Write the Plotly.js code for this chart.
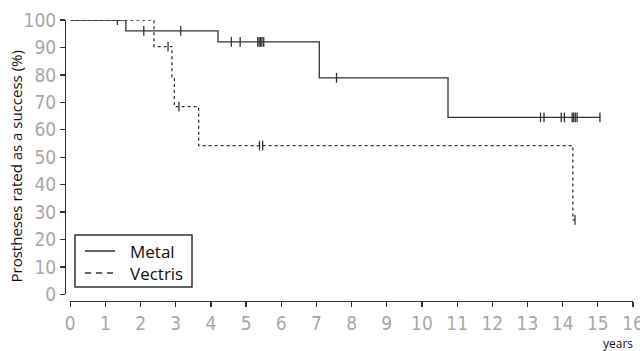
<!DOCTYPE html>
<html>
<head>
<meta charset="utf-8">
<script src="https://cdn.plot.ly/plotly-3.0.1.min.js"></script>
<style>
  html, body { margin: 0; padding: 0; background: #fff; }
  #chart { width: 640px; height: 351px; }
</style>
</head>
<body>
<div id="chart"></div>
<script>
// Kaplan-Meier success curves (years vs % rated as success)
const metalTimes = [0, 1.58, 4.20, 7.08, 10.74, 15.07];
const metalSurv  = [100, 96.0, 92.0, 78.9, 64.5, 64.5];
const metalCensored = [1.34, 2.09, 3.14, 4.58, 4.83, 5.33, 5.37, 5.41, 5.45, 5.50,
                       7.57, 13.37, 13.47, 13.96, 14.05, 14.27, 14.31, 14.36, 14.41, 15.06];

const vectrisTimes = [0, 2.38, 2.89, 2.96, 3.65, 14.29, 14.35];
const vectrisSurv  = [100, 90.3, 79.3, 68.4, 54.2, 27.1, 27.1];
const vectrisCensored = [2.78, 3.09, 5.38, 5.47, 14.35];

const xTicks = [0, 1, 2, 3, 4, 5, 6, 7, 8, 9, 10, 11, 12, 13, 14, 15, 16];
const yTicks = [0, 10, 20, 30, 40, 50, 60, 70, 80, 90, 100];

const seriesNames = ['Metal', 'Vectris'];
const yTitle = 'Prostheses rated as a success (%)';
const xUnit = 'years';

// survival level in effect at time t (right-continuous step)
function stepAt(times, surv, t) {
  let s = surv[0];
  for (let i = 0; i < times.length; i++) {
    if (times[i] <= t) s = surv[i];
  }
  return s;
}

const curveColor = '#333333';
const tickFont = { family: 'Liberation Sans Narrow, DejaVu Sans Condensed, sans-serif', size: 19, color: '#a8a8a8' };
const textFont = { family: 'Open Sans, sans-serif', color: '#111' };

const traces = [
  {
    x: vectrisTimes, y: vectrisSurv, name: seriesNames[1], type: 'scatter', mode: 'lines',
    line: { shape: 'hv', color: curveColor, width: 1.3, dash: '3px,3px' }
  },
  {
    x: vectrisCensored, y: vectrisCensored.map(t => stepAt(vectrisTimes, vectrisSurv, t)),
    type: 'scatter', mode: 'markers', hoverinfo: 'skip',
    marker: { symbol: 'line-ns', size: 7, line: { color: curveColor, width: 1.3 } }
  },
  {
    x: metalTimes, y: metalSurv, name: seriesNames[0], type: 'scatter', mode: 'lines',
    line: { shape: 'hv', color: curveColor, width: 1.3 }
  },
  {
    x: metalCensored, y: metalCensored.map(t => stepAt(metalTimes, metalSurv, t)),
    type: 'scatter', mode: 'markers', hoverinfo: 'skip',
    marker: { symbol: 'line-ns', size: 7, line: { color: curveColor, width: 1.3 } }
  }
];

const axisCommon = {
  showgrid: false, zeroline: false, showline: true,
  linecolor: '#333', linewidth: 1.3,
  ticks: 'outside', ticklen: 5, tickwidth: 1.3, tickcolor: '#333',
  tickfont: tickFont, fixedrange: true, ticklabeloverflow: 'allow'
};

// boxed key in the lower-left corner of the plot (paper coordinates)
const key = { x0: 0.0176, x1: 0.2236, y0: 0.0498, y1: 0.2349,
              lineX0: 0.0352, lineX1: 0.0880, textX: 0.1109,
              rows: [0.1779, 0.0996] };

const layout = {
  width: 640, height: 351,
  margin: { l: 65, r: 7, t: 20, b: 50 },
  paper_bgcolor: '#fff', plot_bgcolor: '#fff',
  showlegend: false,
  xaxis: Object.assign({}, axisCommon, {
    domain: [0.0093, 1], range: [0, 16], anchor: 'free', position: 0,
    tickmode: 'array', tickvals: xTicks, ticktext: xTicks.map(String)
  }),
  yaxis: Object.assign({}, axisCommon, {
    domain: [0.0238, 1], range: [0, 100], anchor: 'free', position: 0,
    tickmode: 'array', tickvals: yTicks, ticktext: yTicks.map(String)
  }),
  shapes: [
    { type: 'rect', xref: 'paper', yref: 'paper', x0: key.x0, x1: key.x1, y0: key.y0, y1: key.y1,
      line: { color: '#333', width: 1.5 }, fillcolor: '#fff', layer: 'above' },
    { type: 'line', xref: 'paper', yref: 'paper', x0: key.lineX0, x1: key.lineX1, y0: key.rows[0], y1: key.rows[0],
      line: { color: curveColor, width: 1.5 } },
    { type: 'line', xref: 'paper', yref: 'paper', x0: key.lineX0, x1: key.lineX1, y0: key.rows[1], y1: key.rows[1],
      line: { color: curveColor, width: 1.5, dash: '6px,5px' } }
  ],
  annotations: [
    {
      text: yTitle, xref: 'paper', yref: 'paper', x: -0.0863, y: 0.4786,
      xanchor: 'center', yanchor: 'middle', textangle: -90, showarrow: false,
      font: Object.assign({ size: 15 }, textFont)
    },
    {
      text: xUnit, xref: 'paper', yref: 'paper', x: 0.9736, y: -0.150,
      xanchor: 'center', yanchor: 'middle', showarrow: false,
      font: Object.assign({ size: 12 }, textFont)
    },
    {
      text: seriesNames[0], xref: 'paper', yref: 'paper', x: key.textX, y: key.rows[0],
      xanchor: 'left', yanchor: 'middle', showarrow: false,
      font: Object.assign({ size: 17 }, textFont)
    },
    {
      text: seriesNames[1], xref: 'paper', yref: 'paper', x: key.textX, y: key.rows[1],
      xanchor: 'left', yanchor: 'middle', showarrow: false,
      font: Object.assign({ size: 17 }, textFont)
    }
  ]
};

Plotly.newPlot('chart', traces, layout, { displayModeBar: false, staticPlot: true });
</script>
</body>
</html>
